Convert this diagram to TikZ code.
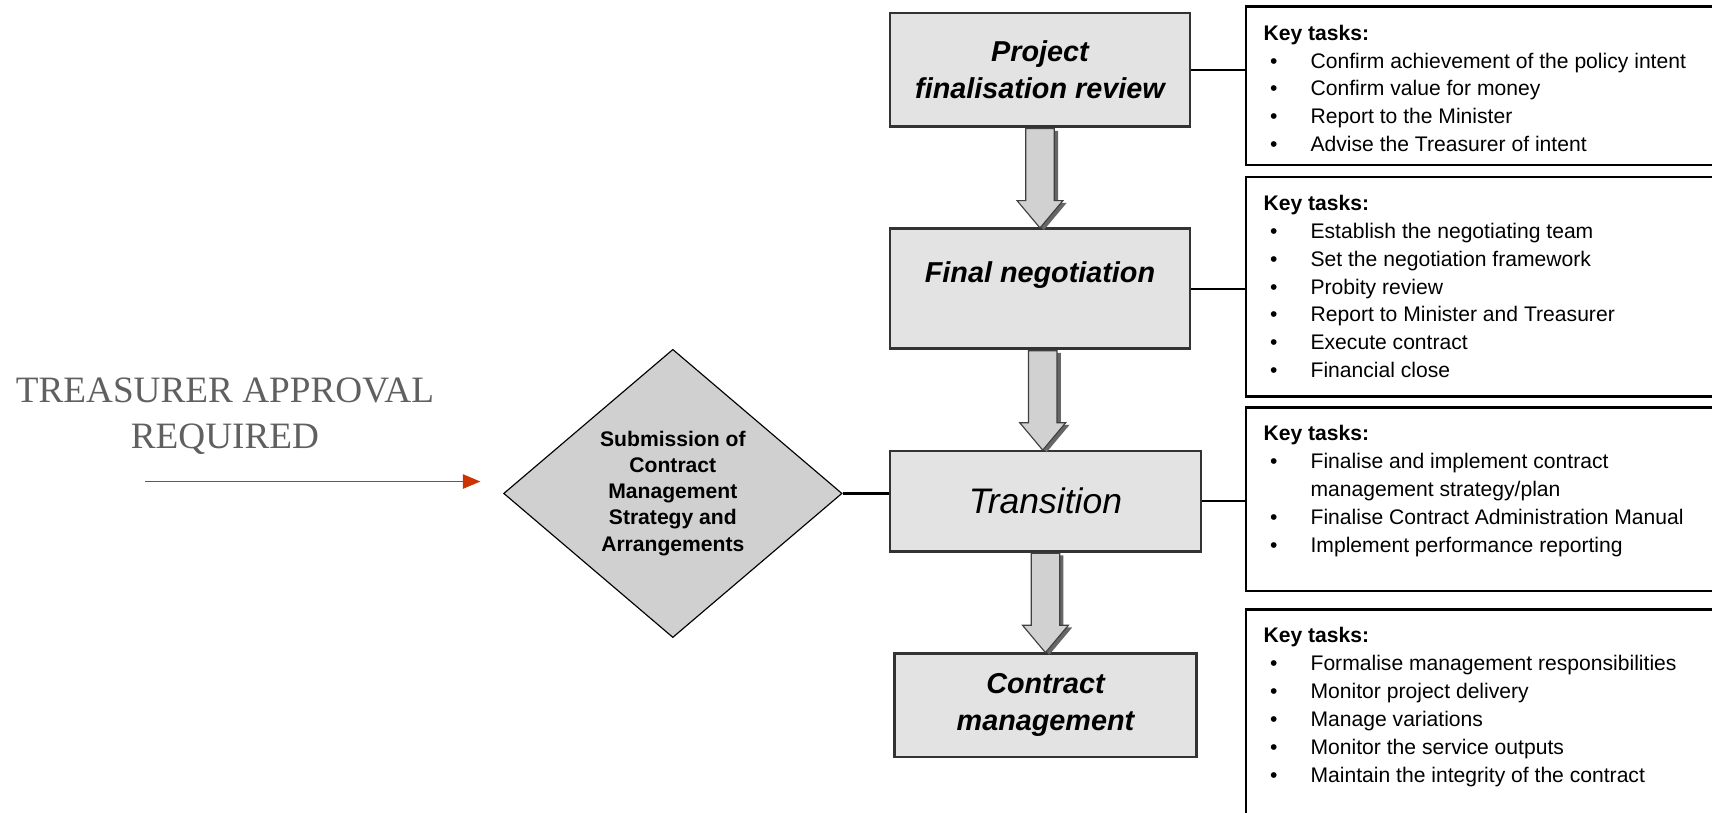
\documentclass[tikz,border=0pt]{standalone}
\usepackage{fontspec}
\setmainfont{Liberation Sans}
\newfontfamily\timesface{Liberation Serif}
\usetikzlibrary{shapes.geometric, shapes.arrows, arrows.meta, positioning,
                shadows, calc}
\definecolor{boxgrey}{HTML}{E3E3E3}
\definecolor{diagrey}{HTML}{D0D0D0}
\definecolor{edgegrey}{HTML}{333333}
\definecolor{approvalred}{HTML}{CC3300}
\definecolor{notegrey}{HTML}{606060}
\newcommand{\task}[1]{\makebox[0.86cm][l]{\hspace{0.12cm}\textbullet}#1}
\newcommand{\taskcont}[1]{\makebox[0.86cm][l]{}#1}
\tikzset{
  stage/.style={rectangle, draw=edgegrey, line width=1.4pt, fill=boxgrey,
                align=center, font=\fontsize{15}{19.5}\selectfont\bfseries\itshape},
  taskbox/.style={rectangle, draw=black, line width=1.3pt, fill=white,
                  minimum width=9.5cm, anchor=north west},
  tasktext/.style={align=left, inner sep=0pt, font=\fontsize{11}{14.5}\selectfont},
  link/.style={line width=1.3pt, draw=black},
}

\begin{document}
\begin{tikzpicture}[
  node distance=1.82cm,
  >=Stealth,
  decision/.style={diamond, draw=black, line width=0.6pt, fill=diagrey,
                   minimum width=6.2cm, minimum height=5.28cm, inner sep=0pt,
                   align=center, font=\fontsize{11}{13.6}\selectfont\bfseries},
  blockarr/.style={single arrow, shape border rotate=270, draw=black!75,
                   line width=0.6pt, fill=black!18, inner sep=0.25cm,
                   single arrow head extend=0.16cm, single arrow tip angle=80,
                   minimum height=1.82cm, anchor=tail,
                   drop shadow={shadow xshift=0.07cm, shadow yshift=-0.04cm,
                                fill=black!60, opacity=1}},
  approval/.style={align=center, inner sep=0pt, text=notegrey,
                   font=\timesface\fontsize{19.4}{24}\selectfont},
]
  \path[use as bounding box, clip] (0,0) rectangle (31.36,-14.88);

  %% -- stages (middle column) -------------------------------------------
  \node[stage, minimum width=5.5cm, minimum height=2.08cm] (proj) at (19.05,-1.28)
       {Project\\finalisation review};
  \node[stage, minimum width=5.5cm, minimum height=2.2cm, text depth=0.6cm,
        below=of proj] (nego) {Final negotiation};
  \node[stage, minimum width=5.7cm, minimum height=1.84cm, xshift=0.1cm,
        font=\fontsize{18.5}{22}\selectfont\itshape, below=of nego] (trans) {Transition};
  \node[stage, minimum width=5.54cm, minimum height=1.9cm, below=of trans] (cman)
       {Contract\\management};

  %% -- submission diamond ------------------------------------------------
  \node[decision, left=0.84cm of trans, yshift=0.14cm] (sub)
       {Submission of\\Contract\\Management\\Strategy and\\Arrangements};

  %% -- key task boxes (right column) -------------------------------------
  \node[taskbox, minimum height=2.9cm]  (kt1) at (22.8,-0.1)   {};
  \node[taskbox, minimum height=4.02cm] (kt2) at (22.8,-3.22)  {};
  \node[taskbox, minimum height=3.36cm] (kt3) at (22.8,-7.44)  {};
  \node[taskbox, minimum height=4.4cm]  (kt4) at (22.8,-11.14) {};

  \node[tasktext, below right=0.35cm and 0.34cm of kt1.north west] (kt1txt)
       {\textbf{Key tasks:}\\
        \task{Confirm achievement of the policy intent}\\
        \task{Confirm value for money}\\
        \task{Report to the Minister}\\
        \task{Advise the Treasurer of intent}};
  \node[tasktext, below right=0.35cm and 0.34cm of kt2.north west] (kt2txt)
       {\textbf{Key tasks:}\\
        \task{Establish the negotiating team}\\
        \task{Set the negotiation framework}\\
        \task{Probity review}\\
        \task{Report to Minister and Treasurer}\\
        \task{Execute contract}\\
        \task{Financial close}};
  \node[tasktext, below right=0.35cm and 0.34cm of kt3.north west] (kt3txt)
       {\textbf{Key tasks:}\\
        \task{Finalise and implement contract}\\
        \taskcont{management strategy/plan}\\
        \task{Finalise Contract Administration Manual}\\
        \task{Implement performance reporting}};
  \node[tasktext, below right=0.35cm and 0.34cm of kt4.north west] (kt4txt)
       {\textbf{Key tasks:}\\
        \task{Formalise management responsibilities}\\
        \task{Monitor project delivery}\\
        \task{Manage variations}\\
        \task{Monitor the service outputs}\\
        \task{Maintain the integrity of the contract}};

  %% -- block arrows between stages ---------------------------------------
  \foreach \a/\b in {proj/nego, nego/trans, trans/cman}{
    \node[blockarr] (arr-\a) at ($(\a.south)!0.5!(\b.north)+(0,0.91)$) {};
  }

  %% -- links to key task boxes -------------------------------------------
  \draw[link] (proj.east)  -- (proj.east -| kt1.west);
  \draw[link] (nego.east)  -- (nego.east -| kt2.west);
  \draw[link] (trans.east) -- (trans.east -| kt3.west);
  \draw[link] (sub.east)   -- (sub.east -| trans.west);

  %% -- treasurer approval ------------------------------------------------
  \node[approval] (note) at (4.12,-7.62) {TREASURER APPROVAL\\REQUIRED};
  \coordinate (src) at (2.66,-8.82);
  \coordinate (dst) at (8.8,-8.82);
  \draw[-{Triangle[length=0.32cm, width=0.26cm]}, line width=0.9pt, approvalred]
    (src) -- (dst);

\end{tikzpicture}
\end{document}
